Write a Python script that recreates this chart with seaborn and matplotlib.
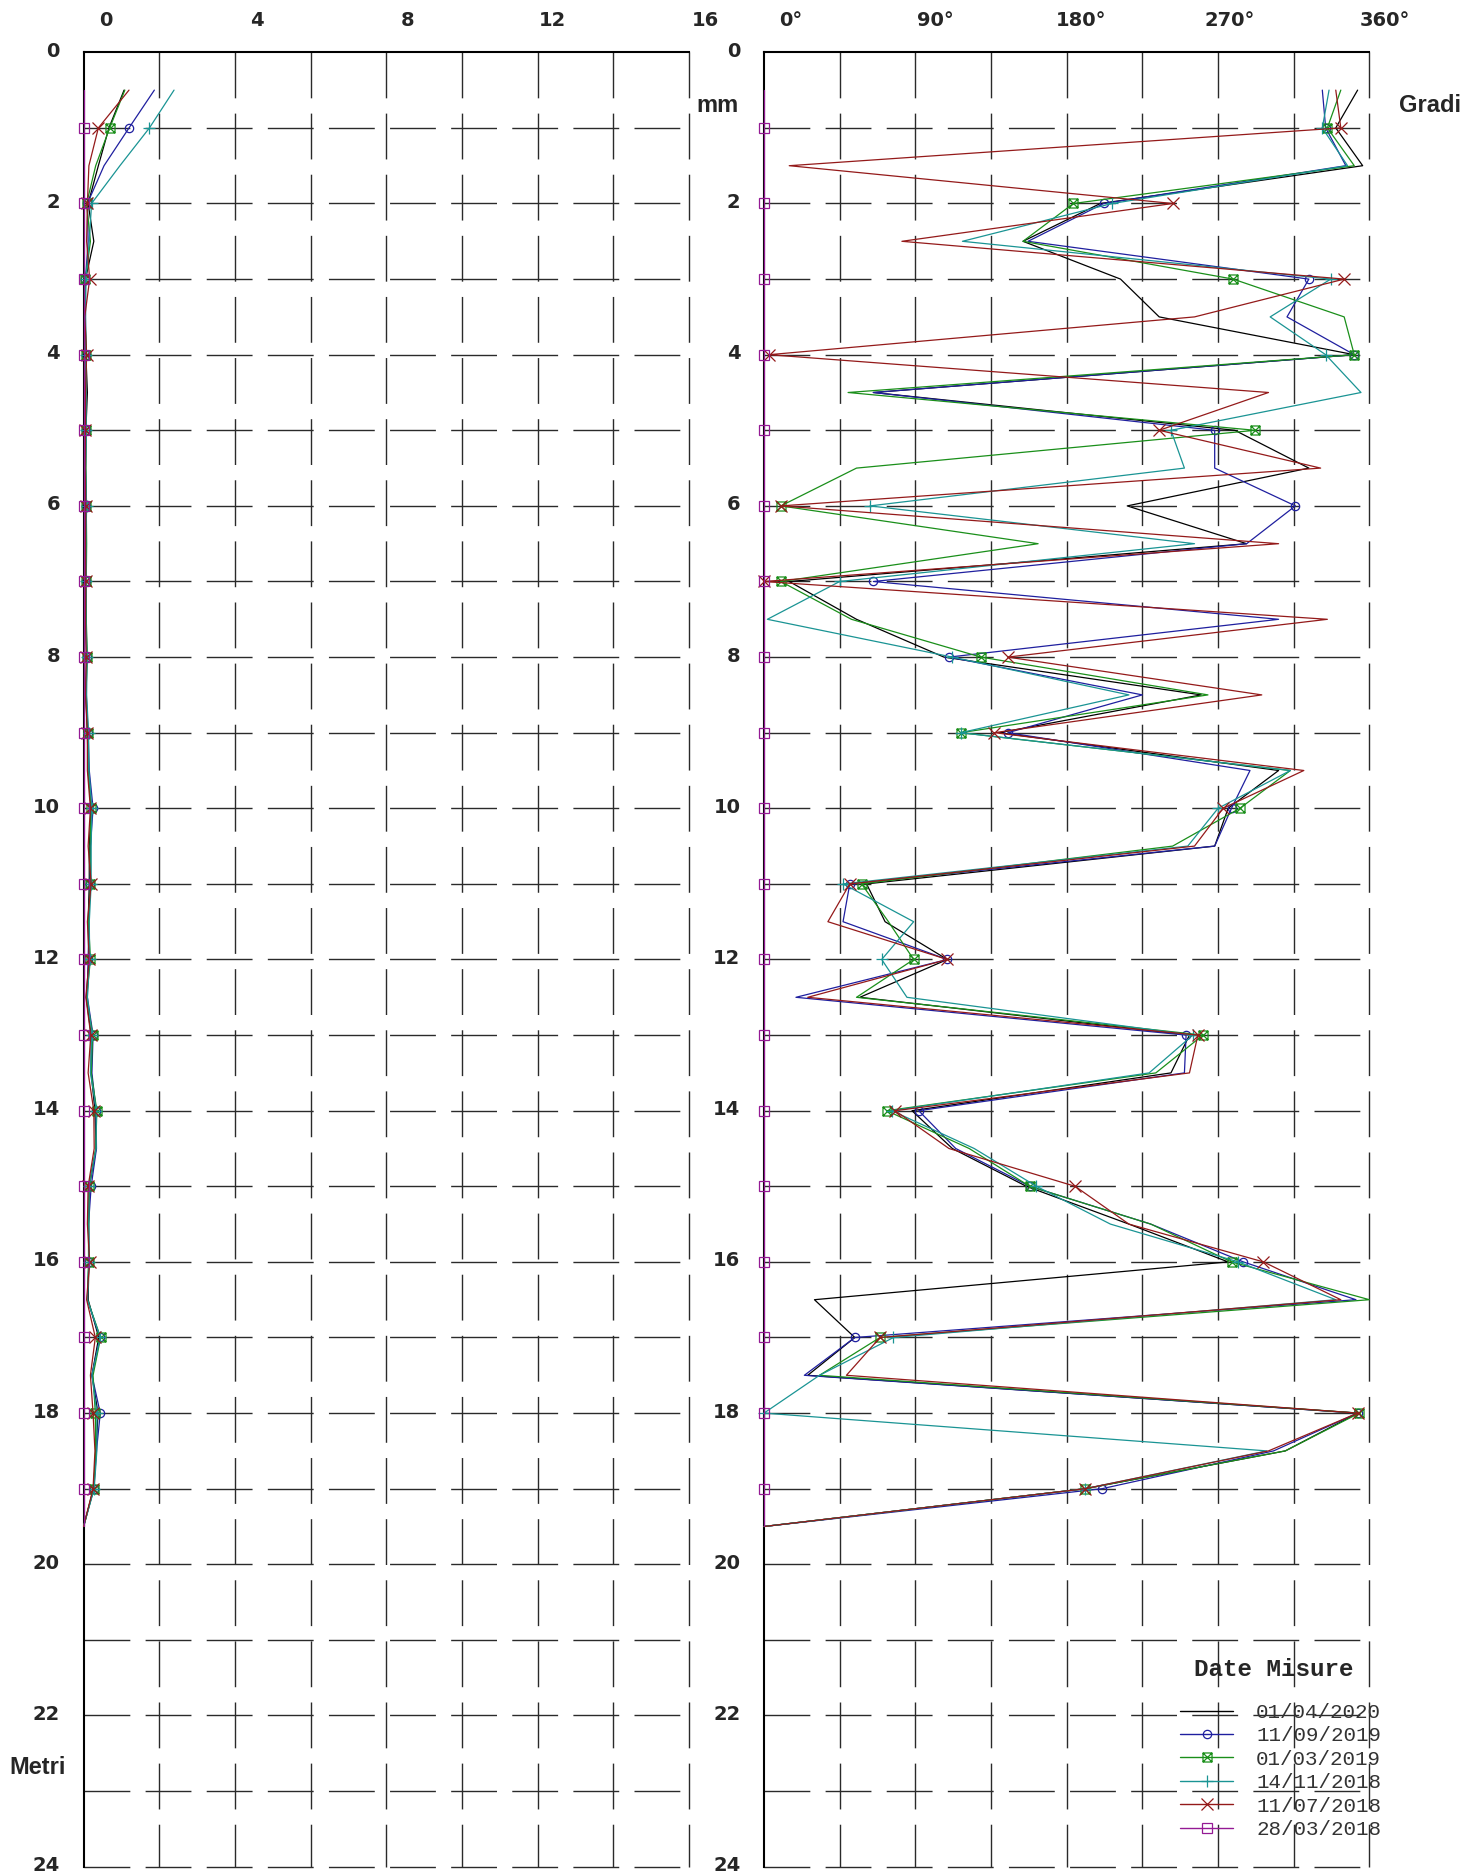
import matplotlib
matplotlib.use("Agg")
import matplotlib.pyplot as plt
from matplotlib.path import Path
from matplotlib.lines import Line2D
from matplotlib.font_manager import FontProperties
from matplotlib.transforms import ScaledTranslation
import seaborn as sns

# depth of each reading (m); markers only every metre
depths = [0.5, 1.0, 1.5, 2.0, 2.5, 3.0, 3.5, 4.0, 4.5, 5.0, 5.5, 6.0, 6.5,
          7.0, 7.5, 8.0, 8.5, 9.0, 9.5, 10.0, 10.5, 11.0, 11.5, 12.0, 12.5,
          13.0, 13.5, 14.0, 14.5, 15.0, 15.5, 16.0, 16.5, 17.0, 17.5, 18.0,
          18.5, 19.0, 19.5]

dates = ["01/04/2020", "11/09/2019", "01/03/2019", "14/11/2018", "11/07/2018", "28/03/2018"]

# displacement (mm)
mm_20200401 = [1.07, 0.67, 0.39, 0.12, 0.27, 0.05, 0.04, 0.06, 0.10, 0.06, 0.05, 0.07, 0.05,
               0.06, 0.06, 0.08, 0.06, 0.10, 0.12, 0.20, 0.15, 0.15, 0.12, 0.14, 0.07,
               0.20, 0.20, 0.30, 0.33, 0.15, 0.13, 0.14, 0.12, 0.40, 0.22, 0.38, 0.33, 0.26, 0.0]
mm_20190911 = [1.87, 1.20, 0.54, 0.10, 0.12, 0.05, 0.05, 0.06, 0.06, 0.06, 0.05, 0.06, 0.06,
               0.06, 0.07, 0.08, 0.07, 0.12, 0.15, 0.25, 0.18, 0.17, 0.14, 0.12, 0.10,
               0.25, 0.22, 0.33, 0.34, 0.20, 0.13, 0.14, 0.10, 0.43, 0.22, 0.44, 0.34, 0.27, 0.0]
mm_20190301 = [1.09, 0.69, 0.32, 0.08, 0.18, 0.05, 0.04, 0.07, 0.06, 0.06, 0.06, 0.07, 0.08,
               0.07, 0.07, 0.10, 0.06, 0.11, 0.12, 0.20, 0.17, 0.18, 0.13, 0.18, 0.08,
               0.24, 0.20, 0.35, 0.32, 0.15, 0.13, 0.13, 0.10, 0.45, 0.25, 0.31, 0.32, 0.27, 0.0]
mm_20181114 = [2.39, 1.74, 0.96, 0.21, 0.15, 0.06, 0.05, 0.06, 0.06, 0.07, 0.05, 0.08, 0.06,
               0.07, 0.06, 0.09, 0.08, 0.13, 0.14, 0.22, 0.20, 0.20, 0.15, 0.16, 0.10,
               0.22, 0.18, 0.34, 0.33, 0.14, 0.14, 0.14, 0.10, 0.44, 0.22, 0.35, 0.35, 0.28, 0.0]
mm_20180711 = [1.20, 0.39, 0.14, 0.10, 0.08, 0.16, 0.03, 0.08, 0.05, 0.05, 0.04, 0.06, 0.05,
               0.06, 0.05, 0.07, 0.05, 0.10, 0.10, 0.18, 0.12, 0.20, 0.10, 0.15, 0.06,
               0.19, 0.12, 0.27, 0.28, 0.12, 0.10, 0.16, 0.08, 0.31, 0.18, 0.25, 0.30, 0.25, 0.0]
mm_20180328 = [0, 0, 0, 0, 0, 0, 0, 0, 0, 0, 0, 0, 0, 0, 0, 0, 0, 0, 0, 0,
               0, 0, 0, 0, 0, 0, 0, 0, 0, 0, 0, 0, 0, 0, 0, 0, 0, 0, 0]

# direction (degrees)
deg_20200401 = [353, 340, 356, 200, 154, 212, 235, 351, 65, 280, 324, 216, 287, 15, 55, 107,
                260, 140, 306, 276, 268, 61, 72, 109, 57, 253, 242, 88, 112, 156, 217, 276,
                30, 54, 26, 353, 310, 191, 0]
deg_20190911 = [332, 334, 346, 202, 157, 324, 311, 351, 65, 268, 268, 316, 287, 65, 306, 110,
                225, 145, 289, 278, 268, 51, 47, 109, 19, 251, 250, 92, 114, 158, 230, 285,
                352, 54, 24, 353, 303, 201, 0]
deg_20190301 = [343, 335, 351, 184, 154, 279, 345, 351, 50, 292, 55, 10, 163, 10, 52, 129,
                264, 117, 313, 283, 243, 58, 74, 89, 55, 261, 233, 73, 122, 158, 230, 278,
                360, 69, 33, 354, 310, 191, 0]
deg_20181114 = [336, 332, 347, 207, 118, 337, 301, 334, 355, 242, 250, 63, 256, 45, 2, 112,
                217, 117, 313, 270, 252, 47, 89, 70, 85, 255, 229, 76, 125, 162, 206, 282,
                340, 77, 33, 0, 299, 191, 0]
deg_20180711 = [340, 343, 15, 243, 82, 345, 256, 3, 300, 235, 331, 10, 306, 0, 335, 145,
                296, 137, 321, 273, 256, 51, 38, 109, 26, 258, 253, 78, 110, 185, 217, 297,
                343, 69, 49, 353, 300, 191, 0]
deg_20180328 = [0, 0, 0, 0, 0, 0, 0, 0, 0, 0, 0, 0, 0, 0, 0, 0, 0, 0, 0, 0,
                0, 0, 0, 0, 0, 0, 0, 0, 0, 0, 0, 0, 0, 0, 0, 0, 0, 0, 0]

mm_series = [mm_20200401, mm_20190911, mm_20190301, mm_20181114, mm_20180711, mm_20180328]
deg_series = [deg_20200401, deg_20190911, deg_20190301, deg_20181114, deg_20180711, deg_20180328]

# square with a cross inside
box_x = Path([(-1, -1), (1, -1), (1, 1), (-1, 1), (-1, -1), (-1, -1), (1, 1), (-1, 1), (1, -1)],
             [Path.MOVETO, Path.LINETO, Path.LINETO, Path.LINETO, Path.CLOSEPOLY,
              Path.MOVETO, Path.LINETO, Path.MOVETO, Path.LINETO])

colors = ["#000000", "#1f1f9f", "#1a8f1a", "#1a9494", "#941a1a", "#941a94"]
markers = ["None", "o", box_x, "+", "x", "s"]
msizes = [0, 6.0, 6.5, 8.5, 8.0, 6.5]

sns.set_theme(style="white")
plt.rcParams["font.family"] = ["Liberation Sans", "DejaVu Sans"]
plt.rcParams["lines.scale_dashes"] = False

W, H = 1482, 1872
fig = plt.figure(figsize=(W / 100, H / 100), dpi=100)
ax_mm = fig.add_axes([83.6 / W, 5.3 / H, 605.4 / W, 1814.4 / H])
ax_deg = fig.add_axes([764 / W, 5.3 / H, 605.4 / W, 1814.4 / H])

grid_kw = dict(colors="#2a2a2a", lw=1.0, linestyles=[(0, (33, 11))], zorder=1, clip_on=False)
ax_mm.vlines(range(2, 17, 2), 0, 24, **grid_kw)
ax_mm.hlines(range(1, 25), 0, 16, **grid_kw)
ax_deg.vlines(range(45, 361, 45), 0, 24, **grid_kw)
ax_deg.hlines(range(1, 25), 0, 360, **grid_kw)

for ax, series in ((ax_mm, mm_series), (ax_deg, deg_series)):
    for vals, c, m, ms in zip(series, colors, markers, msizes):
        sns.lineplot(x=vals, y=depths, sort=False, orient="y", estimator=None,
                     color=c, lw=0.9, marker=m, markevery=slice(1, None, 2), ms=ms,
                     markerfacecolor="none", markeredgecolor=c, markeredgewidth=0.9,
                     clip_on=False, zorder=3, ax=ax, legend=False)

ax_mm.set_xlim(0, 16)
ax_deg.set_xlim(0, 360)
ax_mm.set_xticks([0, 4, 8, 12, 16], ["0", "4", "8", "12", "16"])
ax_deg.set_xticks([0, 90, 180, 270, 360], ["0°", "90°", "180°", "270°", "360°"])
x_shift = {ax_mm: [22, 22, 21, 15, 16], ax_deg: [27, 20, 14, 12, 15]}

for ax in (ax_mm, ax_deg):
    ax.set_ylim(24, 0)
    ax.set_yticks(range(0, 25, 2))
    ax.set_xlabel("")
    ax.set_ylabel("")
    ax.xaxis.tick_top()
    ax.tick_params(axis="x", length=0, pad=16, labelsize=14)
    ax.tick_params(axis="y", length=0, pad=17, labelsize=14)
    for lbl, dx in zip(ax.get_xticklabels(), x_shift[ax]):
        lbl.set_fontfamily("DejaVu Sans")
        lbl.set_fontweight("bold")
        lbl.set_transform(lbl.get_transform() + ScaledTranslation(dx / 100, 0, fig.dpi_scale_trans))
    for lbl in ax.get_yticklabels():
        lbl.set_fontfamily("DejaVu Sans")
        lbl.set_fontweight("bold")
        lbl.set_transform(lbl.get_transform() + ScaledTranslation(0, 3 / 100, fig.dpi_scale_trans))
    for side in ("right", "bottom"):
        ax.spines[side].set_visible(False)
    for side in ("top", "left"):
        ax.spines[side].set_color("black")
        ax.spines[side].set_linewidth(1.5)
    ax.set_facecolor("none")

fig.text(717 / W, 1 - 105 / H, "mm", ha="center", va="center", fontsize=17, fontweight="bold")
fig.text(1430 / W, 1 - 105 / H, "Gradi", ha="center", va="center", fontsize=17, fontweight="bold")
fig.text(38 / W, 1 - 1768 / H, "Metri", ha="center", va="center", fontsize=17, fontweight="bold")

# legend
fig.text(1274 / W, 1 - 1669 / H, "Date Misure", ha="center", va="center",
         family="Liberation Mono", weight="bold", fontsize=17.5)
handles = [Line2D([], [], color=c, lw=1.0, marker=m, ms=ms, markerfacecolor="none",
                  markeredgecolor=c, markeredgewidth=0.9)
           for c, m, ms in zip(colors, markers, msizes)]
fig.legend(handles, dates, loc="upper left", bbox_to_anchor=(1180 / W, 1 - 1703 / H),
           frameon=False, prop=FontProperties(family="Liberation Mono", size=15),
           labelcolor="#333333", handlelength=2.55, handletextpad=1.1, labelspacing=0.21,
           borderpad=0, borderaxespad=0)

fig.savefig("out.png", dpi=100)
